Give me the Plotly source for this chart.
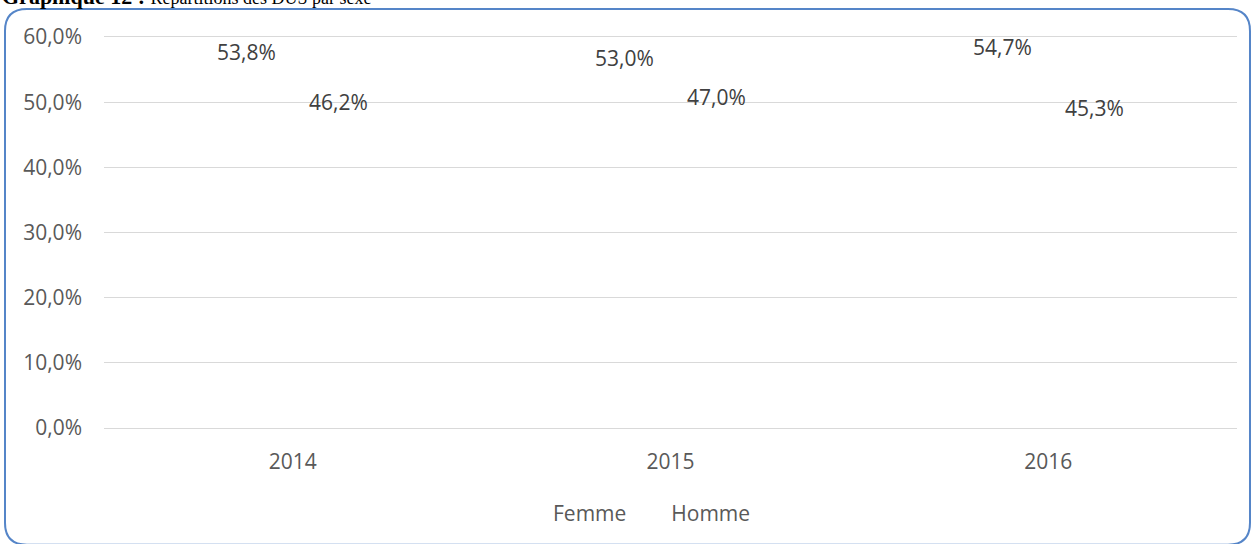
import plotly.graph_objects as go

categories = ["2014", "2015", "2016"]
femme = [53.8, 53.0, 54.7]
homme = [46.2, 47.0, 45.3]
y_ticks = [0, 10, 20, 30, 40, 50, 60]
y_ticktext = ["0,0%", "10,0%", "20,0%", "30,0%", "40,0%", "50,0%", "60,0%"]

W, H = 1253, 544
L, R, T, B = 104, 16, 35, 115
pw, ph = W - L - R, H - T - B
ymax = 60 * ph / (ph - 2)

def px(x):
    return (x - L) / pw

def py(y):
    return (H - B - y) / ph

font_fam = "Open Sans, Noto Sans, Liberation Sans, sans-serif"
grey = "#595959"
label_col = "#404040"
fs = 21

fig = go.Figure()
for name, vals, shift in [("Femme", femme, -46), ("Homme", homme, 46)]:
    fig.add_trace(go.Bar(
        name=name, x=categories, y=vals,
        marker=dict(color="rgba(0,0,0,0)", line=dict(width=0)),
        hoverinfo="skip",
    ))
    for i, v in enumerate(vals):
        # category axis: annotation x given as category index
        fig.add_annotation(
            x=i, y=v, xref="x", yref="y", xshift=shift, yshift=25,
            text=f"{v:.1f}%".replace(".", ","), showarrow=False,
            xanchor="center", yanchor="middle",
            font=dict(size=fs, color=label_col, family=font_fam),
        )

# rounded border
x0, x1, y0, y1, r = 5, 1250, 9, 546, 22
def P(x, y):
    return f"{px(x):.5f},{py(y):.5f}"
path = (f"M {P(x0 + r, y0)} L {P(x1 - r, y0)} Q {P(x1, y0)} {P(x1, y0 + r)} "
        f"L {P(x1, y1 - r)} Q {P(x1, y1)} {P(x1 - r, y1)} "
        f"L {P(x0 + r, y1)} Q {P(x0, y1)} {P(x0, y1 - r)} "
        f"L {P(x0, y0 + r)} Q {P(x0, y0)} {P(x0 + r, y0)} Z")
fig.add_shape(type="path", xref="paper", yref="paper", path=path,
              line=dict(color="#5585c8", width=2), fillcolor="rgba(0,0,0,0)", layer="below")

fig.add_annotation(
    text="<b>Graphique 12 : </b><span style='font-size:18px'>Répartitions des DUS par sexe</span>",
    xref="paper", yref="paper", x=px(0), y=py(11), xanchor="left", yanchor="bottom",
    showarrow=False, font=dict(family="Liberation Serif, Times New Roman, serif", size=22, color="black"),
)

fig.update_layout(
    width=W, height=H,
    margin=dict(l=L, r=R, t=T, b=B, pad=0),
    paper_bgcolor="white", plot_bgcolor="white",
    separators=", ",
    barmode="group", bargap=0.5, bargroupgap=0,
    showlegend=True,
    legend=dict(orientation="h", x=px(513), y=py(513), xanchor="left", yanchor="middle",
                font=dict(size=fs, color=grey, family=font_fam), itemwidth=30,
                bgcolor="rgba(0,0,0,0)"),
    font=dict(family=font_fam, color=grey, size=fs),
)
fig.update_yaxes(range=[0, ymax], tickvals=y_ticks, ticktext=y_ticktext,
                 showgrid=True, gridcolor="#d9d9d9", gridwidth=1, zeroline=False,
                 showline=False, ticks="", ticklabelstandoff=21,
                 tickfont=dict(size=fs, color=grey, family=font_fam))
fig.update_xaxes(type="category", range=[-0.5, len(categories) - 0.5],
                 showline=True, linecolor="#d9d9d9", linewidth=1, ticks="",
                 ticklabelstandoff=15, tickfont=dict(size=fs, color=grey, family=font_fam))

fig.write_html("out.html", config={"displayModeBar": False},
               post_script="document.body.style.margin='0px';document.body.style.overflow='hidden';")
